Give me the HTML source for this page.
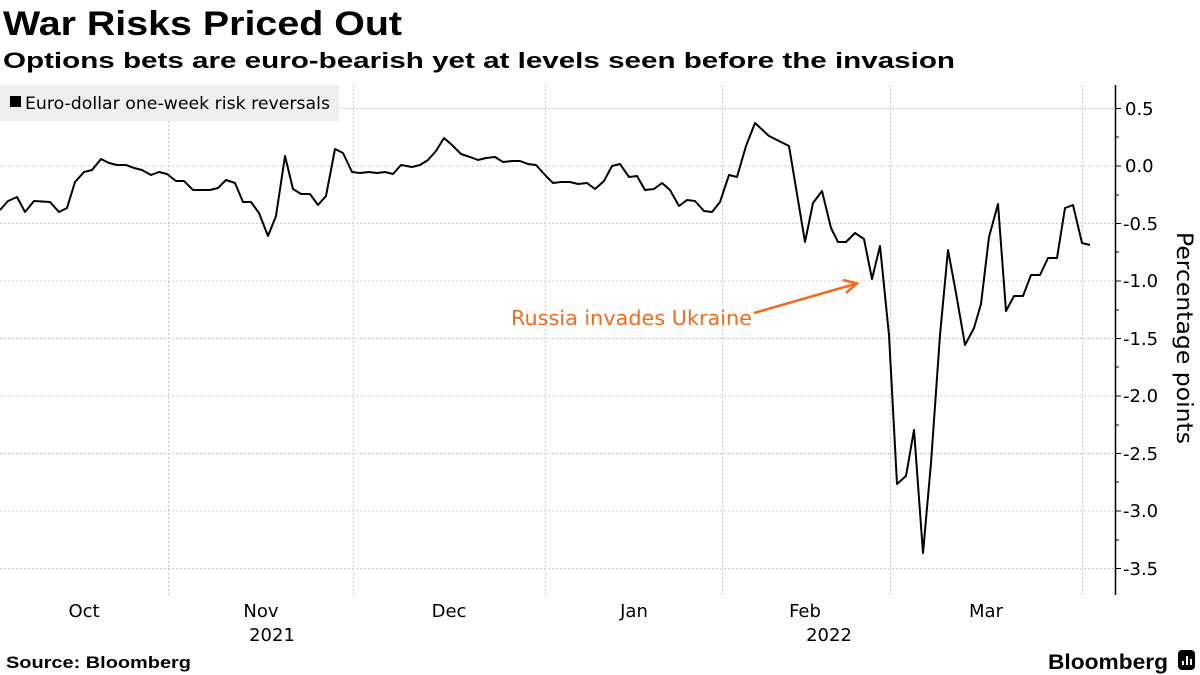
<!DOCTYPE html>
<html><head><meta charset="utf-8"><style>
html,body{margin:0;padding:0;background:#fff;}
body{width:1200px;height:675px;overflow:hidden;position:relative;font-family:"Liberation Sans",sans-serif;}
</style></head><body>
<svg width="1200" height="675" xmlns="http://www.w3.org/2000/svg" style="position:absolute;left:0;top:0">
<text x="3" y="35" font-family="Liberation Sans" font-weight="bold" font-size="34" fill="#000" textLength="399" lengthAdjust="spacingAndGlyphs">War Risks Priced Out</text>
<text x="3" y="68" font-family="Liberation Sans" font-weight="bold" font-size="22.5" fill="#000" textLength="952" lengthAdjust="spacingAndGlyphs">Options bets are euro-bearish yet at levels seen before the invasion</text>
<g stroke="#c8c8c8" stroke-width="1" stroke-dasharray="2,2">
<line x1="0" x2="1115" y1="108.5" y2="108.5"/><line x1="0" x2="1115" y1="166" y2="166"/>
<line x1="0" x2="1115" y1="223.5" y2="223.5"/><line x1="0" x2="1115" y1="281" y2="281"/>
<line x1="0" x2="1115" y1="338.5" y2="338.5"/><line x1="0" x2="1115" y1="396" y2="396"/>
<line x1="0" x2="1115" y1="453.5" y2="453.5"/><line x1="0" x2="1115" y1="511" y2="511"/>
<line x1="0" x2="1115" y1="568.5" y2="568.5"/>
<line x1="168.5" x2="168.5" y1="85" y2="595"/><line x1="353.5" x2="353.5" y1="85" y2="595"/>
<line x1="545.5" x2="545.5" y1="85" y2="595"/><line x1="722.5" x2="722.5" y1="85" y2="595"/>
<line x1="890.5" x2="890.5" y1="85" y2="595"/><line x1="1082.5" x2="1082.5" y1="85" y2="595"/>
</g>
<rect x="0" y="85" width="339" height="36" fill="#efefef"/>
<rect x="10" y="96" width="11" height="11" fill="#000"/>
<text x="25" y="109" font-family="DejaVu Sans" font-size="16.5" fill="#000" textLength="305" lengthAdjust="spacingAndGlyphs">Euro-dollar one-week risk reversals</text>
<polyline fill="none" stroke="#000" stroke-width="2" stroke-linejoin="round" points="0,210 8,201 17,197 25,212 34,201 50,202 59,212 67,208 75,182 84,172 92,170 101,159 109,163 117,165 126,165 134,168 142,170 151,175 159,172 167,174 176,181 184,181 193,190 210,190 218,188 226,180 235,183 243,202 251,202 259,213 268,236 276,216 285,156 293,189 301,194 310,194 318,205 326,196 335,149 343,153 352,172 360,173 369,172 377,173 385,172 393,174 401,165 412,167 420,165 428,160 436,151 444,138 452,145 461,154 470,157 478,160 486,158 495,157 503,162 512,161 520,161 528,164 536,165 545,175 553,183 561,182 570,182 578,184 587,183 595,189 604,181 612,166 620,164 629,177 637,176 645,190 654,189 662,183 670,190 679,206 687,200 695,201 704,211 712,212 720,202 729,175 737,177 746,146 755,123 769,136 789,146 805,242 813,203 822,191 831,228 838,242 846,242 855,233 864,239 872,279 880,246 889,335 897,484 906,476 914,430 923,553 931,463 940,335 948,250 956,293 965,345 974,328 981,304 989,237 998,204 1006,311 1014,296 1023,296 1031,275 1040,275 1048,258 1057,258 1065,208 1073,205 1082,243 1090,245"/>
<text x="511" y="325" font-family="DejaVu Sans" font-size="20" fill="#f26b1d" textLength="241" lengthAdjust="spacingAndGlyphs">Russia invades Ukraine</text>
<line x1="754" y1="313" x2="855" y2="284" stroke="#f26b1d" stroke-width="2.5"/>
<polyline points="843,280 857,283.5 846,293" fill="none" stroke="#f26b1d" stroke-width="2.5"/>
<line x1="1115.5" x2="1115.5" y1="85" y2="595" stroke="#000" stroke-width="1.5"/>
<g stroke="#000" stroke-width="1">
<line x1="1115" x2="1121" y1="108.5" y2="108.5"/><line x1="1115" x2="1121" y1="166" y2="166"/>
<line x1="1115" x2="1121" y1="223.5" y2="223.5"/><line x1="1115" x2="1121" y1="281" y2="281"/>
<line x1="1115" x2="1121" y1="338.5" y2="338.5"/><line x1="1115" x2="1121" y1="396" y2="396"/>
<line x1="1115" x2="1121" y1="453.5" y2="453.5"/><line x1="1115" x2="1121" y1="511" y2="511"/>
<line x1="1115" x2="1121" y1="568.5" y2="568.5"/>
<line x1="1115" x2="1119" y1="137" y2="137"/><line x1="1115" x2="1119" y1="195" y2="195"/>
<line x1="1115" x2="1119" y1="252" y2="252"/><line x1="1115" x2="1119" y1="310" y2="310"/>
<line x1="1115" x2="1119" y1="367" y2="367"/><line x1="1115" x2="1119" y1="425" y2="425"/>
<line x1="1115" x2="1119" y1="482" y2="482"/><line x1="1115" x2="1119" y1="540" y2="540"/>
</g>
<g font-family="DejaVu Sans" font-size="18" fill="#000">
<text x="1125" y="115">0.5</text><text x="1125" y="172">0.0</text>
<text x="1123" y="230">-0.5</text><text x="1123" y="287">-1.0</text>
<text x="1123" y="345">-1.5</text><text x="1123" y="402">-2.0</text>
<text x="1123" y="460">-2.5</text><text x="1123" y="517">-3.0</text>
<text x="1123" y="575">-3.5</text>
<text transform="translate(1177,338) rotate(90)" text-anchor="middle" font-size="22" textLength="212" lengthAdjust="spacingAndGlyphs">Percentage points</text>
</g>
<g font-family="DejaVu Sans" font-size="18" fill="#000" text-anchor="middle">
<text x="84" y="617">Oct</text><text x="261" y="617">Nov</text>
<text x="449" y="617">Dec</text><text x="634" y="617">Jan</text>
<text x="805" y="617">Feb</text><text x="986" y="617">Mar</text>
<text x="272" y="641">2021</text><text x="829" y="641">2022</text>
</g>
<text x="6" y="668" font-family="Liberation Sans" font-weight="bold" font-size="17" fill="#000" textLength="185" lengthAdjust="spacingAndGlyphs">Source: Bloomberg</text>
<text x="1048" y="669" font-family="Liberation Sans" font-weight="bold" font-size="21" fill="#000" textLength="120" lengthAdjust="spacingAndGlyphs">Bloomberg</text>
<rect x="1178" y="650" width="17" height="20" rx="4" fill="#000"/>
<g stroke="#fff" stroke-width="2"><line x1="1183" y1="665" x2="1183" y2="661"/><line x1="1187" y1="665" x2="1187" y2="656"/><line x1="1191" y1="665" x2="1191" y2="659"/></g>
</svg>
</body></html>
